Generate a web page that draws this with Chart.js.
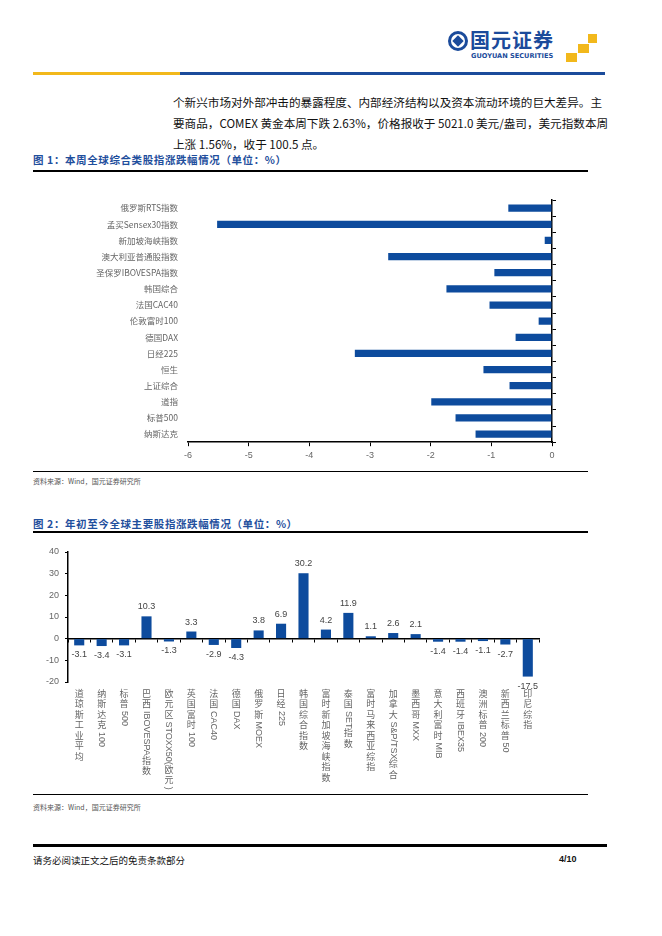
<!DOCTYPE html>
<html>
<head>
<meta charset="utf-8">
<script src="https://cdn.jsdelivr.net/npm/chart.js@4.4.1/dist/chart.umd.min.js"></script>
<style>
  body { margin: 0; width: 662px; height: 936px; background: #fff; position: relative; overflow: hidden;
         font-family: "Noto Sans CJK SC", "DejaVu Sans", sans-serif; }
  .abs { position: absolute; }
  .line { position: absolute; background: #000; }
  .txt { position: absolute; left: 173px; width: 425px; font-size: 11.6px; line-height: 21px; color: #111;
         text-align: justify; text-align-last: justify; white-space: nowrap; }
  .ftitle { position: absolute; left: 33px; font-size: 10.5px; font-weight: bold; color: #1f4f9d; letter-spacing: 0.6px; }
  .src { position: absolute; left: 33px; font-size: 7px; color: #555; }
</style>
</head>
<body>
<!-- 页眉 -->
<div class="abs" style="left:448px;top:31px;width:20px;height:20px;border-radius:50%;border:3px solid #1b4b9b;box-sizing:border-box;"></div>
<div class="abs" style="left:454px;top:37px;width:8px;height:8px;background:#1b4b9b;transform:rotate(45deg);"></div>
<div class="abs" style="left:470px;top:30px;font-size:20px;line-height:20px;font-weight:bold;color:#1b4b9b;letter-spacing:1px;">国元证券</div>
<div class="abs" style="left:471px;top:53px;font-size:6.6px;line-height:7px;font-weight:bold;color:#1b4b9b;font-family:'DejaVu Sans';">GUOYUAN SECURITIES</div>
<div class="abs" style="left:588px;top:34px;width:9px;height:9px;background:#f2b81b;"></div>
<div class="abs" style="left:578px;top:44px;width:11px;height:9px;background:#f2b81b;"></div>
<div class="abs" style="left:566px;top:53px;width:11px;height:9px;background:#f2b81b;"></div>
<div class="line" style="left:33px;top:72px;width:147px;height:3px;background:#f2b81b;"></div>
<div class="line" style="left:180px;top:72px;width:425px;height:3px;background:#1b4b9b;"></div>

<!-- 正文 -->
<div class="txt" style="top:92px;">个新兴市场对外部冲击的暴露程度、内部经济结构以及资本流动环境的巨大差异。主</div>
<div class="txt" style="top:113px;">要商品，COMEX 黄金本周下跌 2.63%，价格报收于 5021.0 美元/盎司，美元指数本周</div>
<div class="txt" style="top:134px;text-align-last:left;">上涨 1.56%，收于 100.5 点。</div>

<!-- 图1 -->
<div class="ftitle" style="top:152px;">图 1：本周全球综合类股指涨跌幅情况（单位：%）</div>
<div class="line" style="left:33px;top:170px;width:555px;height:1.5px;"></div>
<canvas id="chart1" class="abs" width="560" height="280" style="left:30px;top:185px;"></canvas>
<div class="line" style="left:33px;top:471px;width:555px;height:1.2px;"></div>
<div class="src" style="top:476px;">资料来源：Wind，国元证券研究所</div>

<!-- 图2 -->
<div class="ftitle" style="top:516px;">图 2：年初至今全球主要股指涨跌幅情况（单位：%）</div>
<div class="line" style="left:33px;top:531px;width:555px;height:1.5px;"></div>
<canvas id="chart2" class="abs" width="560" height="250" style="left:30px;top:540px;"></canvas>
<div class="line" style="left:33px;top:794px;width:555px;height:1.2px;"></div>
<div class="src" style="top:802px;">资料来源：Wind，国元证券研究所</div>

<!-- 页脚 -->
<div class="line" style="left:33px;top:844px;width:574px;height:3px;"></div>
<div class="abs" style="left:33px;top:853px;font-size:9.5px;color:#111;">请务必阅读正文之后的免责条款部分</div>
<div class="abs" style="left:559px;top:854px;font-size:9px;font-weight:bold;color:#111;font-family:'Liberation Sans';">4/10</div>

<script>
//图1 数据
const labels1 = ['俄罗斯RTS指数', '孟买Sensex30指数', '新加坡海峡指数', '澳大利亚普通股指数', '圣保罗IBOVESPA指数',
    '韩国综合', '法国CAC40', '伦敦富时100', '德国DAX', '日经225', '恒生', '上证综合', '道指', '标普500', '纳斯达克']
const values1 = [-0.72, -5.52, -0.12, -2.70, -0.95, -1.74, -1.03, -0.22, -0.60, -3.25, -1.13, -0.70, -1.99, -1.59, -1.26]

//图2 数据
const labels2 = ['道琼斯工业平均', '纳斯达克100', '标普500', '巴西IBOVESPA指数', '欧元区STOXX50(欧元)', '英国富时100',
    '法国CAC40', '德国DAX', '俄罗斯MOEX', '日经225', '韩国综合指数', '富时新加坡海峡指数', '泰国SET指数',
    '富时马来西亚综指', '加拿大S&P/TSX综合', '墨西哥MXX', '意大利富时MIB', '西班牙IBEX35', '澳洲标普200',
    '新西兰标普50', '印尼综指']
const values2 = [-3.1, -3.4, -3.1, 10.3, -1.3, 3.3, -2.9, -4.3, 3.8, 6.9, 30.2, 4.2, 11.9, 1.1, 2.6, 2.1,
    -1.4, -1.4, -1.1, -2.7, -17.5]

const azul = '#0d4b9d'
const cinza = '#666'
const fonteCJK = '"Noto Sans CJK SC", sans-serif'

//图1
new Chart(document.getElementById('chart1'), {
    type: 'bar',
    data: {
        labels: labels1,
        datasets: [{ data: values1, backgroundColor: azul, categoryPercentage: 1, barPercentage: 0.45 }]
    },
    options: {
        indexAxis: 'y',
        responsive: false,
        animation: false,
        devicePixelRatio: 1,
        layout: { padding: { left: 0, right: 33, top: 10, bottom: 0 } },
        plugins: { legend: { display: false }, tooltip: { enabled: false } },
        scales: {
            x: {
                min: -6, max: 0,
                ticks: { stepSize: 1, color: cinza, font: { size: 9, family: 'Liberation Sans' }, padding: 4 },
                grid: { drawOnChartArea: false, tickLength: 4, color: '#000' },
                border: { color: '#000', width: 1.5 }
            },
            y: {
                position: 'left',
                ticks: { color: cinza, font: { size: 8.5, family: fonteCJK }, padding: 10, autoSkip: false },
                grid: { display: false, drawTicks: false },
                border: { display: false },
                afterFit: s => { s.width = 158 }
            },
            y2: {
                position: 'right',
                ticks: { display: false },
                grid: { drawOnChartArea: false, tickLength: 4, color: '#000', offset: true },
                border: { color: '#000', width: 1.5 },
                afterFit: s => { s.width = 5 }
            }
        }
    }
})

//图2 — 竖排标签和数值标签
const rotulosVerticais = {
    id: 'rotulosVerticais',
    afterDraw(chart) {
        const ctx = chart.ctx
        const x = chart.scales.x
        const tamanho = 9
        ctx.save()
        ctx.fillStyle = cinza
        ctx.font = tamanho + 'px ' + fonteCJK
        labels2.forEach((lab, i) => {
            const px = x.getPixelForValue(i)
            let py = chart.chartArea.bottom + 8
            const partes = lab.match(/[\x20-\x7e]+|[^\x20-\x7e]/g)
            partes.forEach(p => {
                if (/^[\x20-\x7e]+$/.test(p)) {
                    ctx.font = tamanho + 'px "Liberation Sans"'
                    const w = ctx.measureText(p).width
                    ctx.save()
                    ctx.translate(px, py)
                    ctx.rotate(Math.PI / 2)
                    ctx.textAlign = 'left'
                    ctx.textBaseline = 'middle'
                    ctx.fillText(p, 0, 0)
                    ctx.restore()
                    py += w + 1
                    ctx.font = tamanho + 'px ' + fonteCJK
                } else {
                    ctx.textAlign = 'center'
                    ctx.textBaseline = 'top'
                    ctx.fillText(p, px, py - 1)
                    py += tamanho + 1.5
                }
            })
        })
        // 数值
        const meta = chart.getDatasetMeta(0)
        ctx.font = '9px "Liberation Sans"'
        ctx.fillStyle = '#444'
        ctx.textAlign = 'center'
        meta.data.forEach((bar, i) => {
            const v = values2[i]
            if (v >= 0) {
                ctx.textBaseline = 'bottom'
                ctx.fillText(v.toFixed(1), bar.x, bar.y - 5)
            } else {
                ctx.textBaseline = 'top'
                ctx.fillText(v.toFixed(1), bar.x, bar.y + 5)
            }
        })
        ctx.restore()
    }
}

new Chart(document.getElementById('chart2'), {
    type: 'bar',
    data: {
        labels: labels2,
        datasets: [{ data: values2, backgroundColor: azul, categoryPercentage: 1, barPercentage: 0.45 }]
    },
    options: {
        responsive: false,
        animation: false,
        devicePixelRatio: 1,
        layout: { padding: { left: 0, right: 51, top: 12, bottom: 108 } },
        plugins: { legend: { display: false }, tooltip: { enabled: false } },
        scales: {
            x: {
                position: { y: 0 },
                ticks: { display: false },
                grid: { drawOnChartArea: false, tickLength: 3, color: '#000', offset: true },
                border: { color: '#000', width: 1.5 }
            },
            y: {
                min: -20, max: 40,
                ticks: { stepSize: 10, color: cinza, font: { size: 9, family: 'Liberation Sans' }, padding: 6 },
                grid: { drawOnChartArea: false, tickLength: 3, color: '#000' },
                border: { color: '#000', width: 1.5 },
                afterFit: s => { s.width = 38 }
            }
        }
    },
    plugins: [rotulosVerticais]
})
</script>
</body>
</html>
